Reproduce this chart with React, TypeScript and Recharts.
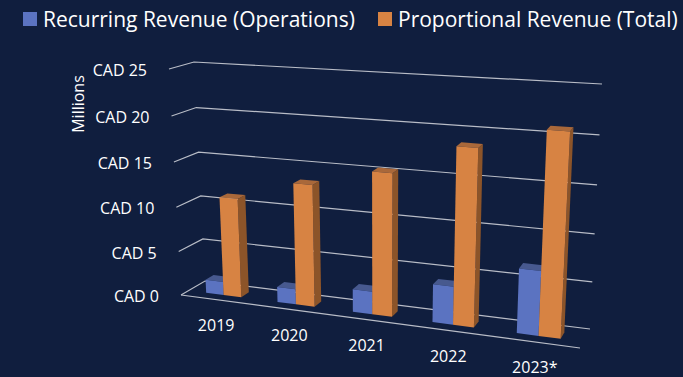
import React from "react";
import { BarChart, Bar, XAxis, YAxis, CartesianGrid, Legend } from "recharts";

const years = ["2019", "2020", "2021", "2022", "2023*"];
const recurring = [1.5, 1.7, 2.5, 4.1, 6.8];
const proportional = [11.1, 13.4, 15.4, 18.7, 21];
const valueTicks = [0, 5, 10, 15, 20, 25];

const rows = years.map((year, i) => ({
  year,
  recurring: recurring[i],
  proportional: proportional[i],
}));

const W = 683;
const H = 377;
const LEGEND_H = 40;
const AXIS_SIZE = 1; // axes refuse to draw at size 0
const PLOT_W = W - AXIS_SIZE;
const PLOT_H = H - LEGEND_H - AXIS_SIZE;
const FONT = "'Open Sans', sans-serif";
const BG = "#101E3E";
const GRID = "#B9BDC7";

// corners of the 3D box as they land on the picture
const FRONT = { l0: [181, 295], r0: [580, 348], l1: [169, 69], r1: [593, 95] };
const BACK = { l0: [205, 281], r0: [590, 329], l1: [194, 62], r1: [602, 84] };
const BAR_FRONT = 0.33;
const BAR_BACK = 0.67;

const mix = (a: number, b: number, t: number) => a + (b - a) * t;

// flat chart position -> picture position, u along years, v up, w into the depth
function project(u: number, v: number, w: number) {
  const pu = u / (1 + 0.15 * (1 - u));
  const pv = v / (1 + 0.05 * (1 - v));
  const corner = (c: typeof FRONT, k: number) =>
    mix(mix(c.l0[k], c.r0[k], pu), mix(c.l1[k], c.r1[k], pu), pv);
  return {
    x: mix(corner(FRONT, 0), corner(BACK, 0), w),
    y: mix(corner(FRONT, 1), corner(BACK, 1), w),
  };
}

const toU = (x: number) => (x - AXIS_SIZE) / PLOT_W;
const toV = (y: number) => 1 - (y - LEGEND_H) / PLOT_H;

const poly = (pts: { x: number; y: number }[]) => pts.map((p) => `${p.x},${p.y}`).join(" ");

const bar3d = (front: string, side: string, top: string) => (props: any) => {
  const { x, y, width, height } = props;
  const u0 = toU(x);
  const u1 = toU(x + width);
  const v0 = toV(y + height);
  const v1 = toV(y);
  return (
    <g>
      <polygon
        fill={side}
        points={poly([
          project(u1, v0, BAR_FRONT),
          project(u1, v0, BAR_BACK),
          project(u1, v1, BAR_BACK),
          project(u1, v1, BAR_FRONT),
        ])}
      />
      <polygon
        fill={top}
        points={poly([
          project(u0, v1, BAR_FRONT),
          project(u1, v1, BAR_FRONT),
          project(u1, v1, BAR_BACK),
          project(u0, v1, BAR_BACK),
        ])}
      />
      <polygon
        fill={front}
        points={poly([
          project(u0, v0, BAR_FRONT),
          project(u1, v0, BAR_FRONT),
          project(u1, v1, BAR_FRONT),
          project(u0, v1, BAR_FRONT),
        ])}
      />
    </g>
  );
};

const GridLine = (props: any) => {
  const v = toV(props.y1);
  const a = project(0, v, 0);
  const b = project(0, v, 1);
  const c = project(1, v, 1);
  const d = project(1, v, 0);
  return (
    <g stroke={GRID} strokeWidth={1.2} fill="none">
      <polyline points={poly([a, b, c])} />
      {v < 0.001 && <line x1={a.x} y1={a.y} x2={d.x} y2={d.y} />}
    </g>
  );
};

const ValueTick = (props: any) => {
  const v = toV(props.y);
  const p = project(0, v, 0);
  return (
    <text x={p.x - 22} y={p.y + 7} textAnchor="end" fontFamily={FONT} fontSize={16} fill="#fff">
      {`CAD ${props.payload.value}`}
    </text>
  );
};

const YearTick = (props: any) => {
  const p = project(toU(props.x), 0, 0);
  return (
    <text x={p.x} y={p.y + 31.5} textAnchor="middle" fontFamily={FONT} fontSize={16} fill="#fff">
      {props.payload.value}
    </text>
  );
};

const AxisUnit = () => (
  <text
    transform="translate(84,104) rotate(-90)"
    textAnchor="middle"
    fontFamily={FONT}
    fontSize={16}
    fill="#fff"
  >
    Millions
  </text>
);

const LegendRow = (props: any) => (
  <div style={{ height: LEGEND_H, position: "relative", fontFamily: FONT, fontSize: 21, color: "#fff" }}>
    {(props.payload || []).map((item: any, i: number) => (
      <div key={item.value} style={{ position: "absolute", left: i === 0 ? 23 : 378, top: 12, display: "flex", alignItems: "center", height: 14 }}>
        <span style={{ width: 14, height: 14, background: item.color, marginRight: 6 }} />
        <span style={{ whiteSpace: "nowrap" }}>{item.value}</span>
      </div>
    ))}
  </div>
);

export default function App() {
  return (
    <div style={{ position: "fixed", left: 0, top: 0, width: W, height: H, background: BG, overflow: "hidden" }}>
      <BarChart
        width={W}
        height={H}
        data={rows}
        margin={{ top: 0, right: 0, bottom: 0, left: 0 }}
        barCategoryGap="25%"
        barGap={0}
      >
        <CartesianGrid vertical={false} horizontal={GridLine as any} />
        <XAxis dataKey="year" height={AXIS_SIZE} axisLine={false} tickLine={false} interval={0} tick={YearTick as any} />
        <YAxis
          width={AXIS_SIZE}
          domain={[0, 25]}
          ticks={valueTicks}
          interval={0}
          axisLine={false}
          tickLine={false}
          tick={ValueTick as any}
          label={AxisUnit as any}
        />
        <Legend verticalAlign="top" height={LEGEND_H} itemSorter={null} content={LegendRow as any} />
        <Bar
          dataKey="recurring"
          name="Recurring Revenue (Operations)"
          fill="#5B73C1"
          shape={bar3d("#5B73C1", "#3F5189", "#47598F") as any}
          isAnimationActive={false}
        />
        <Bar
          dataKey="proportional"
          name="Proportional Revenue (Total)"
          fill="#D78343"
          shape={bar3d("#D78343", "#8C5429", "#A9683A") as any}
          isAnimationActive={false}
        />
      </BarChart>
    </div>
  );
}
